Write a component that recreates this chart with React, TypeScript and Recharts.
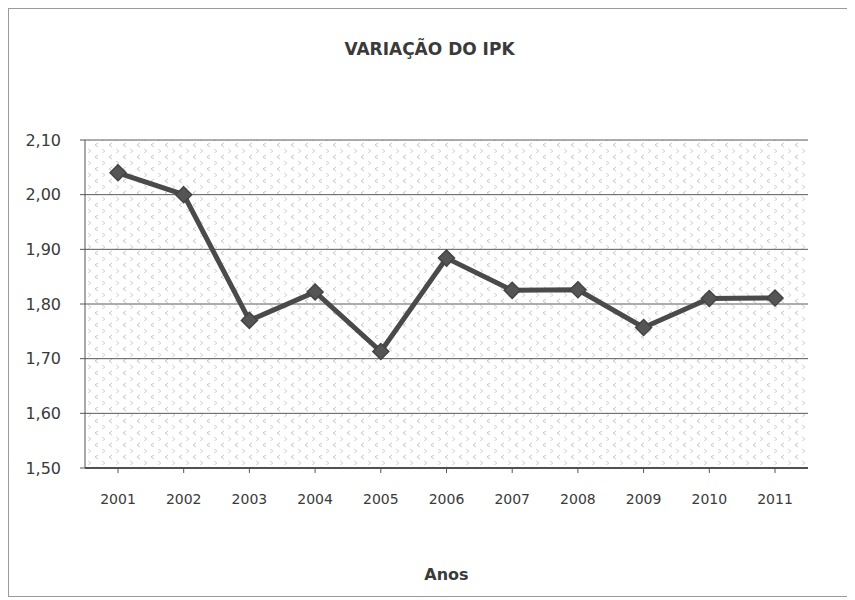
import { LineChart, Line, XAxis, YAxis, CartesianGrid } from 'recharts'

const anos = ['2001', '2002', '2003', '2004', '2005', '2006', '2007', '2008', '2009', '2010', '2011']
const ipk = [2.04, 2.0, 1.77, 1.822, 1.713, 1.884, 1.825, 1.826, 1.757, 1.81, 1.811]
const yTicks = [1.5, 1.6, 1.7, 1.8, 1.9, 2.0, 2.1]

const data = anos.map((ano, i) => ({ ano, ipk: ipk[i] }))

const font = '"DejaVu Sans", Verdana, sans-serif'
const ink = '#3a3a3a'

function Diamond(props: any) {
  const { cx, cy } = props
  if (cx == null || cy == null) return null
  const r = 8
  return (
    <path
      d={`M${cx},${cy - r} L${cx + r},${cy} L${cx},${cy + r} L${cx - r},${cy} Z`}
      fill="#555" stroke="#444" strokeWidth={1.5}
    />
  )
}

export default function App() {
  return (
    <div style={{
      position: 'relative', width: 841, height: 587, border: '1px solid #9a9a9a',
      background: '#fff', fontFamily: font,
    }}>
      <div style={{
        position: 'absolute', top: 30, left: 0, width: 841, textAlign: 'center',
        fontSize: 17, fontWeight: 'bold', color: ink,
      }}>
        VARIAÇÃO DO IPK
      </div>

      <LineChart width={841} height={587} data={data}
        margin={{ top: 131, right: 42, bottom: 0, left: 0 }}>
        <defs>
          <pattern id="scan" width="14" height="12" patternUnits="userSpaceOnUse">
            <path d="M5,2 L2,4 L5,6" fill="none" stroke="#c8c8c8" strokeWidth={1} />
            <path d="M9,8 L12,10 L9,12" fill="none" stroke="#d4d4d4" strokeWidth={1} />
          </pattern>
        </defs>
        <CartesianGrid vertical={false} stroke="#5a5a5a" strokeWidth={1}
          fill="url(#scan)" />
        <XAxis dataKey="ano" height={128} padding={{ left: 33, right: 33 }}
          axisLine={{ stroke: '#333', strokeWidth: 1.5 }}
          tickLine={{ stroke: '#555' }} tickSize={5} tickMargin={21}
          tick={{ fontSize: 14, fill: ink, fontFamily: font }}
          label={{ value: 'Anos', position: 'insideBottom', offset: 16, fontSize: 16,
            fontWeight: 'bold', fill: ink, fontFamily: font }} />
        <YAxis domain={[1.5, 2.1]} ticks={yTicks} width={76}
          axisLine={{ stroke: '#555' }} tickLine={{ stroke: '#555' }} tickSize={5} tickMargin={19}
          tickFormatter={(v: number) => v.toFixed(2).replace('.', ',')}
          tick={{ fontSize: 16, fill: ink, fontFamily: font }} />
        <Line dataKey="ipk" stroke="#4a4a4a" strokeWidth={5} type="linear"
          dot={<Diamond />} activeDot={false} isAnimationActive={false} />
      </LineChart>
    </div>
  )
}
